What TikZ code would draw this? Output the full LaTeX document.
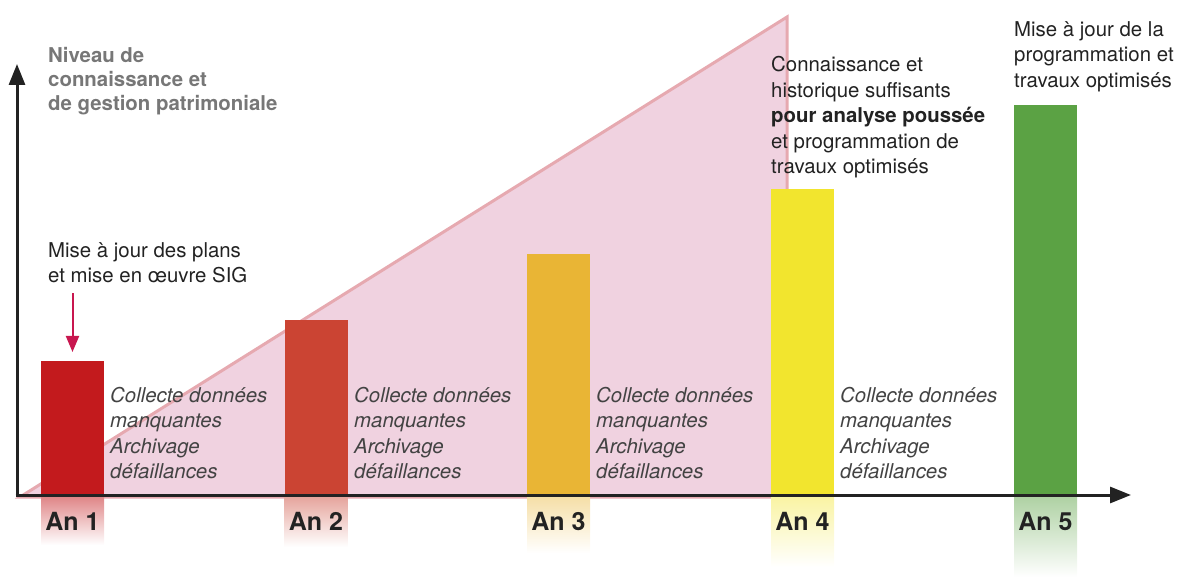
\documentclass[tikz,border=0pt]{standalone}
\usepackage{fontspec}
\setmainfont{TeX Gyre Heros}
\usetikzlibrary{arrows.meta,positioning}

\definecolor{pinkfill}{HTML}{F0D2E0}
\definecolor{pinkedge}{HTML}{E6A9B0}
\definecolor{barone}{HTML}{C31A1D}
\definecolor{bartwo}{HTML}{CB4433}
\definecolor{barthree}{HTML}{E9B535}
\definecolor{barfour}{HTML}{F2E52E}
\definecolor{barfive}{HTML}{5BA244}
\definecolor{axisgray}{HTML}{222222}
\definecolor{labelgray}{HTML}{777777}
\definecolor{pointred}{HTML}{C8174F}

\tikzset{
  bar/.style={anchor=south, minimum width=63pt, inner sep=0pt, outer sep=0pt},
  year/.style={anchor=base, inner sep=0pt, font=\fontsize{25}{30}\selectfont\bfseries, text=axisgray},
  note/.style={anchor=north west, inner sep=0pt, align=left, text=axisgray!85,
    font=\fontsize{20.4}{25.4}\selectfont\itshape},
  info/.style={anchor=north west, inner sep=0pt, align=left, text=axisgray,
    font=\fontsize{20.4}{25.6}\selectfont},
  axis/.style={draw=axisgray, line width=3pt, -{Triangle[length=21pt,width=16pt]}},
}

\begin{document}
\begin{tikzpicture}[x=1pt,y=-1pt]
        \useasboundingbox (0,0) rectangle (1192,577);

        % growing level
        \path[fill=pinkfill, draw=pinkedge, line width=3pt, line join=miter] (20,497) -- (787,17) -- (787,497) -- cycle;

        % bars
        \node[bar, fill=barone, minimum height=134pt] (b1) at (72.5,495) {};
        \node[bar, fill=bartwo, minimum height=175pt] (b2) at (316,495) {};
        \node[bar, fill=barthree, minimum height=241pt] (b3) at (558.5,495) {};
        \node[bar, fill=barfour, minimum height=306pt] (b4) at (802.5,495) {};
        \node[bar, fill=barfive, minimum height=390pt] (b5) at (1045.5,495) {};

        \shade[top color=barone!55, bottom color=white] (b1.south west) rectangle ++(63,50);
        \shade[top color=bartwo!50, bottom color=white] (b2.south west) rectangle ++(63,52);
        \shade[top color=barthree!45, bottom color=white] (b3.south west) rectangle ++(63,58);
        \shade[top color=barfour!45, bottom color=white] (b4.south west) rectangle ++(63,72);
        \shade[top color=barfive!50, bottom color=white] (b5.south west) rectangle ++(63,82);

        % axes
        \coordinate (o) at (17,495);
        \coordinate (ytip) at (17,64);
        \coordinate (xtip) at (1131,495);
        \draw[axis] ([yshift=-1.5pt]o) -- (ytip);
        \draw[axis] ([xshift=-1.5pt]o) -- (xtip);

        \node[year] (y1) at ([yshift=-35pt]b1.south) {An 1};
        \node[year] (y2) at ([yshift=-35pt]b2.south) {An 2};
        \node[year] (y3) at ([yshift=-35pt]b3.south) {An 3};
        \node[year] (y4) at ([yshift=-35pt]b4.south) {An 4};
        \node[year] (y5) at ([yshift=-35pt]b5.south) {An 5};

        % texts
        \node[info, text=labelgray, font=\fontsize{20.4}{24.2}\selectfont\bfseries] (level) at (48,47) {Niveau de\\connaissance et\\de gestion patrimoniale};
        \node[info] (sig) at (48,242) {Mise à jour des plans\\et mise en œuvre SIG};
        \node[info] (analyse) at (771,56) {Connaissance et\\historique suffisants\\\textbf{pour analyse poussée}\\et programmation de\\travaux optimisés};
        \node[info] (prog) at (1014,21) {Mise à jour de la\\programmation et\\travaux optimisés};

        \node[note] (n1) at (110,387) {Collecte données\\manquantes\\Archivage\\défaillances};
        \node[note] (n2) at (354,387) {Collecte données\\manquantes\\Archivage\\défaillances};
        \node[note] (n3) at (596,387) {Collecte données\\manquantes\\Archivage\\défaillances};
        \node[note] (n4) at (840,387) {Collecte données\\manquantes\\Archivage\\défaillances};

        \path[draw=pointred, line width=2pt, -{Triangle[length=16pt,width=13pt]}, shorten <=10pt, shorten >=9pt] (b1.north |- sig.south) -- (b1.north);
    \end{tikzpicture}
\end{document}
